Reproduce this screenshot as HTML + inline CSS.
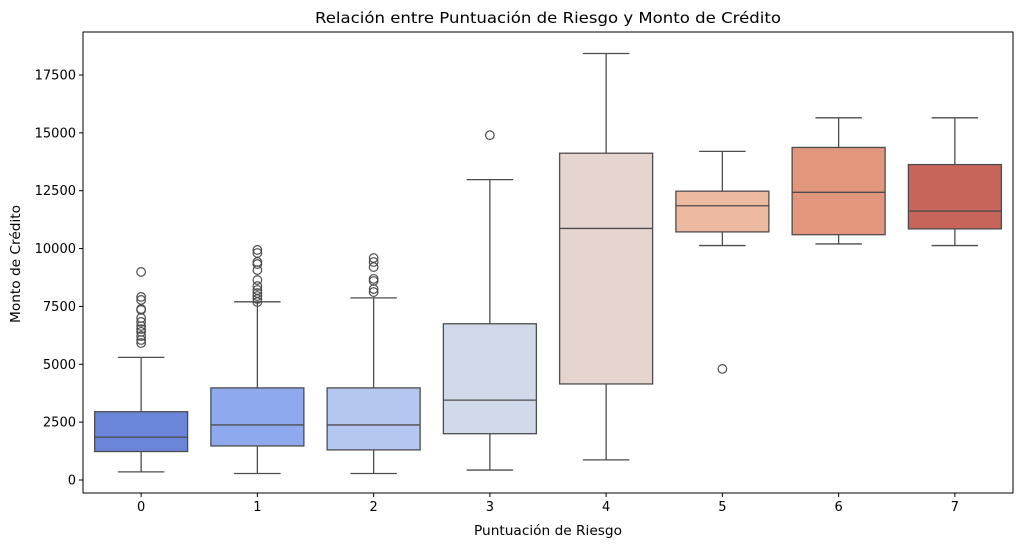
<!DOCTYPE html>
<html><head><meta charset="utf-8"><style>
body{margin:0;background:#fff;font-family:"DejaVu Sans","Liberation Sans",sans-serif}
</style></head><body>
<svg id="c" width="1023" height="548" xmlns="http://www.w3.org/2000/svg" font-family="DejaVu Sans, Liberation Sans, sans-serif"></svg>
<script>
const categories=["0","1","2","3","4","5","6","7"];
const whiskerLow=[350,280,280,430,870,10130,10200,10130];
const q1=[1230,1470,1300,2000,4150,10720,10600,10850];
const median=[1850,2380,2380,3450,10870,11850,12430,11620];
const q3=[2950,3980,3980,6750,14120,12480,14370,13630];
const whiskerHigh=[5300,7700,7870,12980,18430,14200,15650,15650];
const outliers=[[8990,7910,7780,7390,7350,7000,6830,6650,6520,6400,6220,6050,5920],[9940,9810,9420,9330,9070,8640,8380,8210,8080,7950,7820,7690],[9590,9420,9200,8690,8600,8250,8120],[14900],[],[4800],[],[]];
const colors=["#6a85da","#8fa9ef","#b4c7f1","#d0daea","#e6d5ce","#edb9a1","#e2967c","#c8655a"];
const yTicks=[0,2500,5000,7500,10000,12500,15000,17500];
const L=83,R=1013,T=32,B=493,yMin=-562,yMax=19358;
const svg=document.getElementById('c');const NS="http://www.w3.org/2000/svg";
function y(v){return B-(v-yMin)/(yMax-yMin)*(B-T);}
const step=(R-L)/categories.length;
function x(i){return L+step*(i+0.5);}
function el(t,a,p){const e=document.createElementNS(NS,t);for(const k in a)e.setAttribute(k,a[k]);(p||svg).appendChild(e);return e;}
let t=el('text',{x:548,y:23,'text-anchor':'middle','font-size':15.5,fill:'#000',textLength:466,lengthAdjust:'spacingAndGlyphs'});t.textContent="Relación entre Puntuación de Riesgo y Monto de Crédito";


yTicks.forEach(v=>{const g=el('g',{});


el('line',{x1:L-4,x2:L,y1:y(v),y2:y(v),stroke:'#000'},g);
const s=el('text',{x:L-7,y:y(v)+4.5,'text-anchor':'end','font-size':13},g);s.textContent=v;});
categories.forEach((c,i)=>{const cx=x(i),w=step*0.8,g=el('g',{});


const st={stroke:'#4d4d4d','stroke-width':1.3};
el('line',Object.assign({x1:cx,x2:cx,y1:y(whiskerLow[i]),y2:y(q1[i])},st),g);
el('line',Object.assign({x1:cx,x2:cx,y1:y(q3[i]),y2:y(whiskerHigh[i])},st),g);
el('line',Object.assign({x1:cx-w/4,x2:cx+w/4,y1:y(whiskerLow[i]),y2:y(whiskerLow[i])},st),g);
el('line',Object.assign({x1:cx-w/4,x2:cx+w/4,y1:y(whiskerHigh[i]),y2:y(whiskerHigh[i])},st),g);
el('rect',Object.assign({x:cx-w/2,y:y(q3[i]),width:w,height:y(q1[i])-y(q3[i]),fill:colors[i]},st),g);
el('line',Object.assign({x1:cx-w/2,x2:cx+w/2,y1:y(median[i]),y2:y(median[i])},st),g);
outliers[i].forEach(v=>el('circle',{cx:cx,cy:y(v),r:4.3,fill:'none',stroke:'#4d4d4d','stroke-width':1.2},g));
el('line',{x1:cx,x2:cx,y1:B,y2:B+4,stroke:'#000'});
const s=el('text',{x:cx,y:B+18,'text-anchor':'middle','font-size':13});s.textContent=c;


});
const ax=el('rect',{x:L,y:T,width:R-L,height:B-T,fill:'none',stroke:'#000','stroke-width':1});


t=el('text',{x:548,y:535,'text-anchor':'middle','font-size':13,textLength:148,lengthAdjust:'spacingAndGlyphs'});t.textContent="Puntuación de Riesgo";


t=el('text',{x:20,y:264,'text-anchor':'middle','font-size':13,textLength:118,lengthAdjust:'spacingAndGlyphs',transform:'rotate(-90 20 264)'});t.textContent="Monto de Crédito";


</script>
</body></html>
